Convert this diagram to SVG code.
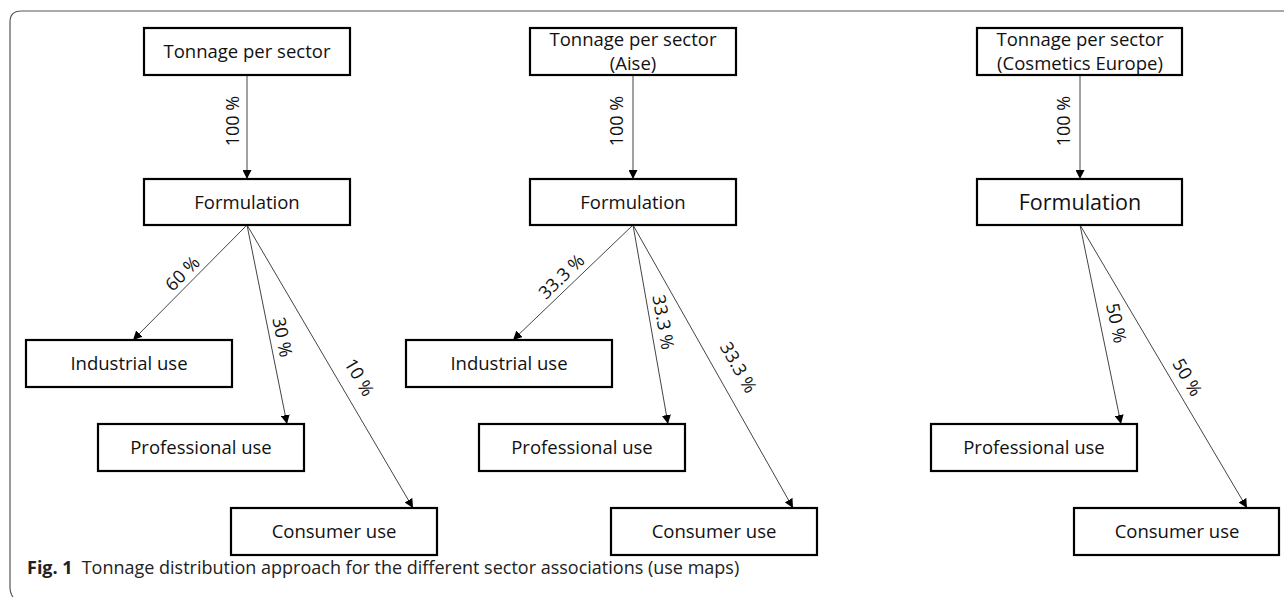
<svg xmlns="http://www.w3.org/2000/svg" width="1284" height="597" viewBox="0 0 1284 597">
<defs>
<style>
.box{fill:#fff;stroke:#000;stroke-width:2.2}
.t{font-family:"Open Sans","Liberation Sans",sans-serif;font-size:18.5px;fill:#111;text-anchor:middle}
.big{font-size:21.5px}
.lbl{font-family:"Open Sans","Liberation Sans",sans-serif;font-size:18px;fill:#111;text-anchor:middle;dominant-baseline:central}
.c{stroke:#444;stroke-width:1;fill:none;marker-end:url(#ah)}
.cap{font-family:"Open Sans","Noto Sans","Liberation Sans",sans-serif;font-size:18px;fill:#222}
</style>
<marker id="ah" viewBox="0 0 10 10" refX="10" refY="5" markerWidth="9" markerHeight="9" markerUnits="userSpaceOnUse" orient="auto">
<path d="M0,0 L10,5 L0,10 z" fill="#000"/>
</marker>
</defs>
<path d="M13,597 Q10,593 10,587 L10,22 Q10,11 21,11 L1284,11" fill="none" stroke="#555" stroke-width="1.2"/>
<g id="connectors">
<line class="c" x1="247" y1="76" x2="247" y2="179"/>
<line class="c" x1="247" y1="225" x2="133" y2="340"/>
<line class="c" x1="247" y1="225" x2="287" y2="424"/>
<line class="c" x1="247" y1="225" x2="413" y2="508"/>
<line class="c" x1="633" y1="76" x2="633" y2="179"/>
<line class="c" x1="633" y1="225" x2="513" y2="340"/>
<line class="c" x1="633" y1="225" x2="668" y2="424"/>
<line class="c" x1="633" y1="225" x2="793" y2="508"/>
<line class="c" x1="1080" y1="76" x2="1080" y2="179"/>
<line class="c" x1="1080" y1="225" x2="1121" y2="424"/>
<line class="c" x1="1080" y1="225" x2="1247" y2="508"/>
<text class="lbl" transform="translate(232,121) rotate(-90)">100 %</text>
<text class="lbl" transform="translate(182,273) rotate(-45)">60 %</text>
<text class="lbl" transform="translate(283,337) rotate(78.6)">30 %</text>
<text class="lbl" transform="translate(360,377) rotate(59.6)">10 %</text>
<text class="lbl" transform="translate(616,121) rotate(-90)">100 %</text>
<text class="lbl" transform="translate(561,276) rotate(-43.8)">33.3 %</text>
<text class="lbl" transform="translate(664,322) rotate(80)">33.3 %</text>
<text class="lbl" transform="translate(739,367) rotate(60.5)">33.3 %</text>
<text class="lbl" transform="translate(1063,121) rotate(-90)">100 %</text>
<text class="lbl" transform="translate(1117,323) rotate(78.4)">50 %</text>
<text class="lbl" transform="translate(1188,377) rotate(59.5)">50 %</text>
</g>
<g id="p1-tonnage"><rect class="box" x="144" y="28" width="206" height="47"/><text class="t" x="247" y="58">Tonnage per sector</text></g>
<g id="p1-formulation"><rect class="box" x="144" y="179" width="206" height="46"/><text class="t" x="247" y="209">Formulation</text></g>
<g id="p1-industrial"><rect class="box" x="26" y="340" width="206" height="47"/><text class="t" x="129" y="370">Industrial use</text></g>
<g id="p1-professional"><rect class="box" x="98" y="424" width="206" height="47"/><text class="t" x="201" y="454">Professional use</text></g>
<g id="p1-consumer"><rect class="box" x="231" y="508" width="206" height="47"/><text class="t" x="334" y="538">Consumer use</text></g>
<g id="p2-tonnage"><rect class="box" x="530" y="28" width="206" height="47"/><text class="t" x="633" y="46">Tonnage per sector</text><text class="t" x="633" y="70">(Aise)</text></g>
<g id="p2-formulation"><rect class="box" x="530" y="179" width="206" height="46"/><text class="t" x="633" y="209">Formulation</text></g>
<g id="p2-industrial"><rect class="box" x="406" y="340" width="206" height="47"/><text class="t" x="509" y="370">Industrial use</text></g>
<g id="p2-professional"><rect class="box" x="479" y="424" width="206" height="47"/><text class="t" x="582" y="454">Professional use</text></g>
<g id="p2-consumer"><rect class="box" x="611" y="508" width="206" height="47"/><text class="t" x="714" y="538">Consumer use</text></g>
<g id="p3-tonnage"><rect class="box" x="977" y="28" width="205" height="47"/><text class="t" x="1080" y="46">Tonnage per sector</text><text class="t" x="1080" y="70">(Cosmetics Europe)</text></g>
<g id="p3-formulation"><rect class="box" x="977" y="179" width="205" height="46"/><text class="t big" x="1080" y="210">Formulation</text></g>
<g id="p3-professional"><rect class="box" x="931" y="424" width="206" height="47"/><text class="t" x="1034" y="454">Professional use</text></g>
<g id="p3-consumer"><rect class="box" x="1074" y="508" width="205" height="47"/><text class="t" x="1177" y="538">Consumer use</text></g>
<text class="cap" x="27" y="574"><tspan font-weight="bold">Fig. 1</tspan><tspan dx="9">Tonnage distribution approach for the different sector associations (use maps)</tspan></text>
</svg>
